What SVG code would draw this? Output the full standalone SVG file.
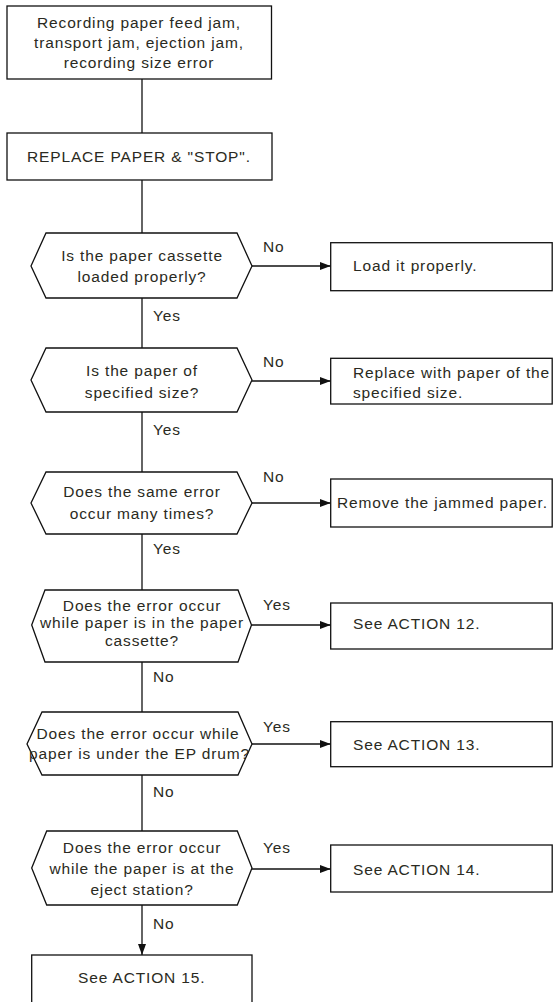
<svg xmlns="http://www.w3.org/2000/svg" width="553" height="1002" viewBox="0 0 553 1002">
<style>
.bx{fill:#fff;stroke:#111;stroke-width:1.3}
.t{font-family:"Liberation Sans",Arial,sans-serif;font-size:15.5px;letter-spacing:0.85px;fill:#2a2a22}
.m{text-anchor:middle}
.c{fill:none;stroke:#111;stroke-width:1.3}
</style>
<defs>
<marker id="ah" markerUnits="userSpaceOnUse" markerWidth="12" markerHeight="10" refX="11" refY="4" orient="auto">
<path d="M0,0 L11,4 L0,8 z" fill="#111"/>
</marker>
</defs>
<rect width="553" height="1002" fill="#fff"/>
<g id="connectors">
<line class="c" x1="142" y1="79" x2="142" y2="133"/>
<line class="c" x1="142" y1="180" x2="142" y2="233"/>
<line class="c" x1="142" y1="298" x2="142" y2="348"/>
<line class="c" x1="142" y1="412" x2="142" y2="472"/>
<line class="c" x1="142" y1="534" x2="142" y2="590"/>
<line class="c" x1="142" y1="662" x2="142" y2="712"/>
<line class="c" x1="142" y1="775" x2="142" y2="831"/>
<line class="c" x1="142" y1="905" x2="142" y2="955" marker-end="url(#ah)"/>
<line class="c" x1="252" y1="266" x2="330.7" y2="266" marker-end="url(#ah)"/>
<line class="c" x1="252" y1="381" x2="330.7" y2="381" marker-end="url(#ah)"/>
<line class="c" x1="252" y1="503" x2="330.7" y2="503" marker-end="url(#ah)"/>
<line class="c" x1="251.5" y1="625" x2="330.7" y2="625" marker-end="url(#ah)"/>
<line class="c" x1="252" y1="744" x2="330.7" y2="744" marker-end="url(#ah)"/>
<line class="c" x1="252" y1="869" x2="330.7" y2="869" marker-end="url(#ah)"/>
<text class="t" x="263" y="252">No</text>
<text class="t" x="153" y="321">Yes</text>
<text class="t" x="263" y="367">No</text>
<text class="t" x="153" y="435">Yes</text>
<text class="t" x="263" y="482">No</text>
<text class="t" x="153" y="554">Yes</text>
<text class="t" x="263" y="610">Yes</text>
<text class="t" x="153" y="682">No</text>
<text class="t" x="263" y="732">Yes</text>
<text class="t" x="153" y="797">No</text>
<text class="t" x="263" y="852.5">Yes</text>
<text class="t" x="153" y="928.5">No</text>
</g>
<g id="start">
<rect class="bx" x="7" y="6" width="264.5" height="73"/>
<text class="t m" x="139" y="28">Recording paper feed jam,</text>
<text class="t m" x="139" y="48">transport jam, ejection jam,</text>
<text class="t m" x="139" y="68">recording size error</text>
</g>
<g id="replace">
<rect class="bx" x="7" y="133" width="265" height="47"/>
<text class="t" x="27" y="162">REPLACE PAPER &amp; &quot;STOP&quot;.</text>
</g>
<g id="q1">
<polygon class="bx" points="31,266 46,233 237,233 252,266 237,298 46,298"/>
<text class="t m" x="142" y="261">Is the paper cassette</text>
<text class="t m" x="142" y="282">loaded properly?</text>
</g>
<g id="a1">
<rect class="bx" x="330.7" y="242.7" width="221.5" height="48"/>
<text class="t" x="353" y="271">Load it properly.</text>
</g>
<g id="q2">
<polygon class="bx" points="31,380 46,348 237,348 252,380 237,412 46,412"/>
<text class="t m" x="142" y="376">Is the paper of</text>
<text class="t m" x="142" y="398">specified size?</text>
</g>
<g id="a2">
<rect class="bx" x="330.7" y="358.3" width="221.5" height="45.7"/>
<text class="t" x="353" y="378">Replace with paper of the</text>
<text class="t" x="353" y="398">specified size.</text>
</g>
<g id="q3">
<polygon class="bx" points="31,503 46,472 237,472 252,503 237,534 46,534"/>
<text class="t m" x="142" y="497">Does the same error</text>
<text class="t m" x="142" y="518.5">occur many times?</text>
</g>
<g id="a3">
<rect class="bx" x="330.7" y="479" width="221.5" height="48"/>
<text class="t" x="337" y="508">Remove the jammed paper.</text>
</g>
<g id="q4">
<polygon class="bx" points="31.7,625 45,590 238,590 251.5,625 238,662 45,662"/>
<text class="t m" x="142" y="610.5">Does the error occur</text>
<text class="t m" x="142" y="628">while paper is in the paper</text>
<text class="t m" x="142" y="645.5">cassette?</text>
</g>
<g id="a4">
<rect class="bx" x="330.7" y="603" width="221.5" height="46"/>
<text class="t" x="353" y="628.5">See ACTION 12.</text>
</g>
<g id="q5">
<polygon class="bx" points="27,744 42,712 238,712 252,744 238,775 42,775"/>
<text class="t m" x="138" y="738.5">Does the error occur while</text>
<text class="t m" x="139.5" y="758.5">paper is under the EP drum?</text>
</g>
<g id="a5">
<rect class="bx" x="330.7" y="721.7" width="221.5" height="45"/>
<text class="t" x="353" y="749.5">See ACTION 13.</text>
</g>
<g id="q6">
<polygon class="bx" points="31.7,868 46.7,831 237.3,831 252,868 237.3,905 46.7,905"/>
<text class="t m" x="142" y="852.5">Does the error occur</text>
<text class="t m" x="142" y="873.5">while the paper is at the</text>
<text class="t m" x="142" y="895">eject station?</text>
</g>
<g id="a6">
<rect class="bx" x="330.7" y="845" width="221.5" height="47"/>
<text class="t" x="353" y="874.5">See ACTION 14.</text>
</g>
<g id="a7">
<rect class="bx" x="31.7" y="955" width="220.3" height="50"/>
<text class="t m" x="141.7" y="982.5">See ACTION 15.</text>
</g>
</svg>
